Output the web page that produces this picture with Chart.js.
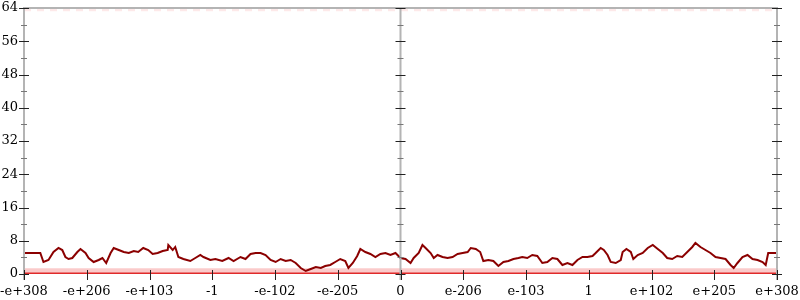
<!DOCTYPE html>
<html>
<head>
<meta charset="utf-8">
<script src="https://cdn.jsdelivr.net/npm/chart.js@4/dist/chart.umd.min.js"></script>
<style>
  html, body { margin: 0; padding: 0; background: #fff; }
  #wrap { width: 800px; height: 300px; }
</style>
</head>
<body>
<div id="wrap"><canvas id="chart"></canvas></div>
<script>
// tick labels of the x axis (positions -6 .. 6)
const xTickLabels = ['-e+308', '-e+206', '-e+103', '-1', '-e-102', '-e-205', '0',
                     'e-206', 'e-103', '1', 'e+102', 'e+205', 'e+308'];
const yTicks = [0, 8, 16, 24, 32, 40, 48, 56, 64];

// sampled curve, x in axis units, y in value units
const curveX = [-6.00, -5.74, -5.69, -5.61, -5.53, -5.45, -5.39, -5.34, -5.29, -5.23,
  -5.15, -5.10, -5.02, -4.97, -4.89, -4.81, -4.75, -4.69, -4.62, -4.57,
  -4.49, -4.41, -4.33, -4.25, -4.18, -4.10, -4.02, -3.95, -3.87, -3.79,
  -3.71, -3.70, -3.63, -3.59, -3.54, -3.46, -3.35, -3.27, -3.19, -3.14,
  -3.03, -2.95, -2.84, -2.74, -2.66, -2.55, -2.47, -2.39, -2.31, -2.23,
  -2.15, -2.07, -1.99, -1.91, -1.83, -1.75, -1.67, -1.59, -1.51, -1.43,
  -1.35, -1.27, -1.20, -1.12, -1.04, -0.96, -0.88, -0.83, -0.76, -0.69,
  -0.64, -0.56, -0.48, -0.40, -0.32, -0.24, -0.16, -0.08, 0.00, 0.08,
  0.16, 0.21, 0.29, 0.35, 0.40, 0.48, 0.53, 0.59, 0.67, 0.75,
  0.83, 0.91, 0.99, 1.07, 1.12, 1.20, 1.27, 1.32, 1.40, 1.48,
  1.56, 1.64, 1.72, 1.80, 1.88, 1.94, 2.02, 2.10, 2.18, 2.26,
  2.34, 2.42, 2.50, 2.58, 2.66, 2.74, 2.82, 2.90, 2.98, 3.06,
  3.11, 3.19, 3.24, 3.30, 3.35, 3.43, 3.51, 3.54, 3.60, 3.67,
  3.71, 3.78, 3.86, 3.94, 4.02, 4.10, 4.18, 4.25, 4.33, 4.41,
  4.49, 4.57, 4.65, 4.70, 4.78, 4.86, 4.94, 5.02, 5.10, 5.18,
  5.26, 5.31, 5.37, 5.45, 5.53, 5.61, 5.69, 5.77, 5.82, 5.86,
  5.93, 6.00];
const curveY = [5.05, 5.05, 2.89, 3.37, 5.29, 6.26, 5.77, 4.09, 3.61, 3.85,
  5.29, 6.02, 5.05, 3.85, 2.89, 3.37, 3.85, 2.65, 5.05, 6.26,
  5.77, 5.29, 5.05, 5.53, 5.29, 6.26, 5.77, 4.81, 5.05, 5.53,
  5.77, 6.98, 5.77, 6.50, 4.09, 3.61, 3.13, 3.85, 4.57, 4.09,
  3.37, 3.61, 3.13, 3.85, 3.13, 4.09, 3.61, 4.81, 5.05, 5.05,
  4.57, 3.37, 2.89, 3.61, 3.13, 3.37, 2.65, 1.44, 0.72, 1.20,
  1.68, 1.44, 1.92, 2.17, 2.89, 3.61, 3.13, 1.44, 2.65, 4.33,
  6.02, 5.29, 4.81, 4.09, 4.81, 5.05, 4.57, 5.05, 3.85, 3.61,
  2.65, 3.85, 5.05, 6.98, 6.26, 5.05, 3.85, 4.57, 4.09, 3.85,
  4.09, 4.81, 5.05, 5.29, 6.26, 6.02, 5.29, 3.13, 3.37, 3.13,
  1.92, 2.89, 3.13, 3.61, 3.85, 4.09, 3.85, 4.57, 4.33, 2.65,
  2.89, 3.85, 3.61, 2.17, 2.65, 2.17, 3.37, 4.09, 4.09, 4.33,
  5.05, 6.26, 5.77, 4.57, 2.89, 2.65, 3.37, 5.29, 6.02, 5.29,
  3.61, 4.57, 5.05, 6.26, 6.98, 6.02, 5.05, 3.85, 3.61, 4.33,
  4.09, 5.29, 6.50, 7.46, 6.50, 5.77, 5.05, 4.09, 3.85, 3.61,
  2.17, 1.44, 2.65, 4.09, 4.57, 3.61, 3.37, 2.89, 2.17, 5.05,
  5.05, 5.05];

// pale band along the bottom and faint row along the top
const bandTop = 1.4;
const topRow = 63.6;

const xMin = -6, xMax = 6, yMin = 0, yMax = 64;

// axes, tick marks at left, centre and right
const axisPlugin = {
    id: 'axisPlugin',
    afterDatasetsDraw(chart) {
        const ctx = chart.ctx;
        const xs = chart.scales.x;
        const ys = chart.scales.y;
        const top = ys.getPixelForValue(yMax);
        const bottom = ys.getPixelForValue(yMin);
        const axesX = [xs.getPixelForValue(xMin), xs.getPixelForValue(0), xs.getPixelForValue(xMax)];

        ctx.save();
        ctx.strokeStyle = '#b4b4b4';
        ctx.lineWidth = 2;
        ctx.beginPath();
        ctx.moveTo(axesX[0], top);
        ctx.lineTo(axesX[2], top);
        ctx.stroke();
        axesX.forEach(ax => {
            ctx.beginPath();
            ctx.moveTo(ax, top - 1);
            ctx.lineTo(ax, bottom + 6);
            ctx.stroke();
        });

        // y ticks, major every 8, minor in between
        for (let v = yMin; v <= yMax; v += 4) {
            const py = Math.round(ys.getPixelForValue(v)) + 0.5;
            const major = v % 8 === 0;
            ctx.strokeStyle = major ? '#222' : '#777';
            ctx.lineWidth = 1;
            const half = major ? 5 : 3;
            axesX.forEach(ax => {
                ctx.beginPath();
                ctx.moveTo(ax - half, py);
                ctx.lineTo(ax + half, py);
                ctx.stroke();
            });
        }

        // x ticks
        ctx.strokeStyle = '#222';
        ctx.lineWidth = 1;
        for (let i = xMin; i <= xMax; i++) {
            const px = Math.round(xs.getPixelForValue(i)) + 0.5;
            ctx.beginPath();
            ctx.moveTo(px, bottom - 4);
            ctx.lineTo(px, bottom + 6);
            ctx.stroke();
        }
        ctx.restore();
    }
};

new Chart(document.getElementById('chart'), {
    type: 'line',
    data: {
        datasets: [
            {
                label: 'curve',
                data: curveX.map((x, i) => ({ x: x, y: curveY[i] })),
                borderColor: '#8b0000',
                borderWidth: 2,
                pointRadius: 0,
                tension: 0,
                order: 0
            },
            {
                label: 'zero',
                data: [{ x: xMin, y: 0 }, { x: xMax, y: 0 }],
                borderColor: '#e02a2a',
                borderWidth: 3,
                pointRadius: 0,
                order: 1
            },
            {
                label: 'band',
                data: [{ x: xMin, y: bandTop }, { x: xMax, y: bandTop }],
                borderWidth: 0,
                borderColor: 'rgba(0,0,0,0)',
                backgroundColor: 'rgba(240,80,80,0.3)',
                fill: 'origin',
                pointRadius: 0,
                order: 2
            },
            {
                label: 'topRow',
                data: [{ x: xMin, y: topRow }, { x: xMax, y: topRow }],
                borderColor: 'rgba(240,110,110,0.15)',
                borderWidth: 3,
                borderDash: [7, 6],
                pointRadius: 0,
                order: 3
            }
        ]
    },
    options: {
        responsive: true,
        maintainAspectRatio: false,
        animation: false,
        layout: { padding: { top: 8, right: 23, left: 0, bottom: 0 } },
        plugins: {
            legend: { display: false },
            tooltip: { enabled: false }
        },
        scales: {
            x: {
                type: 'linear',
                min: xMin,
                max: xMax,
                grid: { display: false, drawTicks: false },
                border: { display: false },
                afterFit: (axis) => {
                    axis.height = 26;
                    axis.paddingLeft = 0;
                    axis.paddingRight = 0;
                },
                afterBuildTicks: (axis) => {
                    axis.ticks = xTickLabels.map((t, i) => ({ value: xMin + i }));
                },
                ticks: {
                    padding: 10,
                    maxRotation: 0,
                    autoSkip: false,
                    color: '#000',
                    font: { family: 'DejaVu Serif', size: 13 },
                    callback: (v) => xTickLabels[v - xMin]
                }
            },
            y: {
                min: yMin,
                max: yMax,
                grid: { display: false, drawTicks: false },
                border: { display: false },
                afterFit: (axis) => {
                    axis.width = 24;
                    axis.paddingTop = 0;
                    axis.paddingBottom = 0;
                },
                afterBuildTicks: (axis) => {
                    axis.ticks = yTicks.map(v => ({ value: v }));
                },
                ticks: {
                    padding: 6,
                    color: '#000',
                    font: { family: 'DejaVu Serif', size: 13 }
                }
            }
        }
    },
    plugins: [axisPlugin]
});
</script>
</body>
</html>
